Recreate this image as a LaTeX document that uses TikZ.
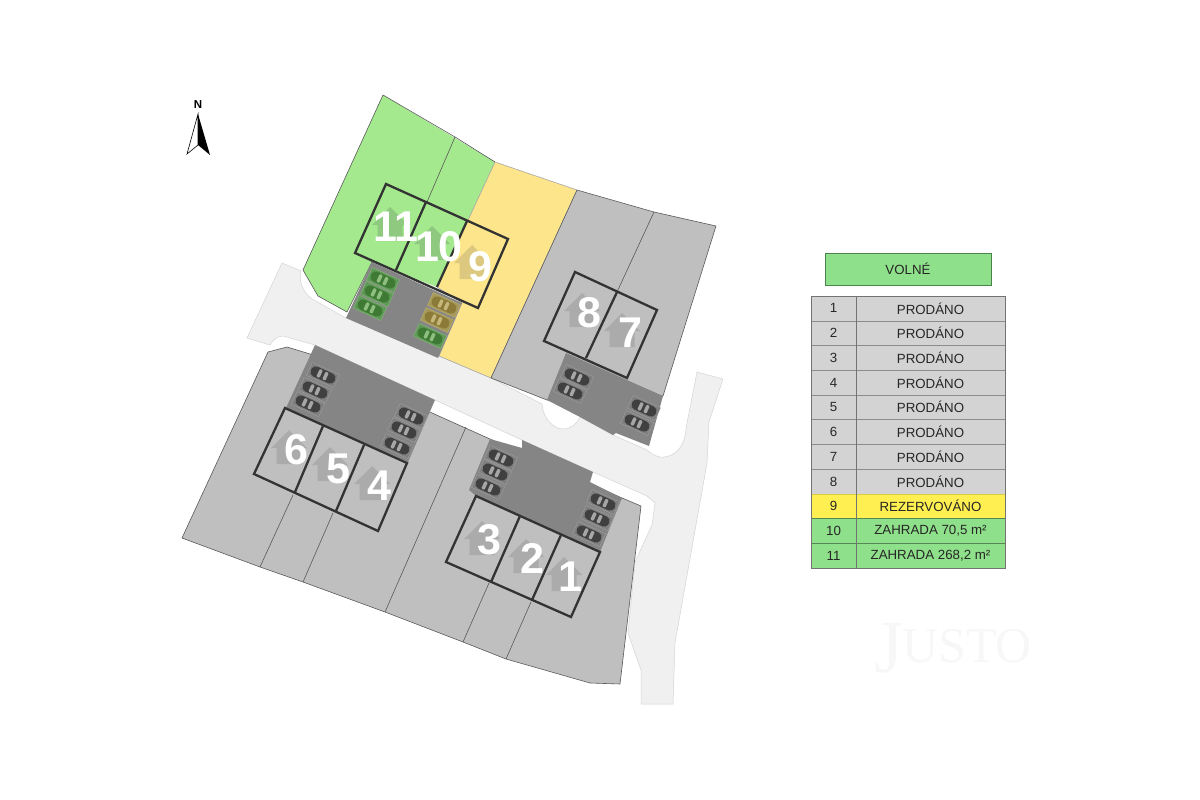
\documentclass[tikz,border=0pt]{standalone}
\usepackage{fontspec}
\setmainfont{Liberation Sans}
\newfontfamily\wmfont{Liberation Serif}

\definecolor{roadgray}{HTML}{F0F0F0}
\definecolor{lotgray}{HTML}{BFBFBF}
\definecolor{lotgreen}{HTML}{A4E98E}
\definecolor{lotyellow}{HTML}{FDE58B}
\definecolor{parkgray}{HTML}{858585}
\definecolor{rowgray}{HTML}{D3D3D3}
\definecolor{rowgreen}{HTML}{8FE08A}
\definecolor{rowyellow}{HTML}{FFEF50}
\definecolor{baygreen}{HTML}{5F9A58}
\definecolor{cargreen}{HTML}{3F7A34}
\definecolor{glassgreen}{HTML}{8FBF80}
\definecolor{bayolive}{HTML}{A69A5A}
\definecolor{carolive}{HTML}{8C7B38}
\definecolor{glassolive}{HTML}{C5B67A}
\definecolor{housegreen}{HTML}{8FC87F}
\definecolor{houseyellow}{HTML}{DCC87F}

\tikzset{
  lotedge/.style={draw=#1, line width=0.6pt, line join=round},
  blockline/.style={draw=black!80, line width=2.3pt, line join=miter},
  plotnum/.style={text=white, font=\fontsize{43}{43}\selectfont\bfseries, inner sep=0pt},
  rowcell/.style={minimum height=24.7pt, inner sep=0pt, text=black!85, font=\fontsize{13.3}{14}\selectfont},
}

% one parking bay: centre x, y, bay colour, car colour, window colour
\newcommand{\parkbay}[5]{
  \begin{scope}[shift={(#1,#2)}, rotate=-24.3]
    \filldraw [draw=#5, line width=0.3pt, fill=#3] (-15,-7) rectangle (15,7);
    \fill [#4, rounded corners=4.5pt] (-13,-5.3) rectangle (13,5.3);
    \fill [#5, rounded corners=1pt] (-5.5,-4.2) rectangle (-2,4.2);
    \fill [#5, rounded corners=1pt] (1,-4.2) rectangle (4.5,4.2);
  \end{scope}
}
% house icon: peak x, y, colour
\newcommand{\houseicon}[3]{
  \fill [#3] (#1,#2) -- ++(18,18) -- ++(-5.5,0) -- ++(0,16) -- ++(-25,0) -- ++(0,-16) -- ++(-5.5,0) -- cycle;
}

\begin{document}
\begin{tikzpicture}[x=1pt,y=-1pt]
\useasboundingbox (0,0) rectangle (1200,800);
% road
\filldraw [draw=black!17, line width=0.5pt, fill=roadgray] (282,263) -- (301,271) .. controls (298,283) and (304,293) .. (312,299) -- (346,318) -- (439,356) -- (491,378) -- (542,404) .. controls (543,418) and (553,429) .. (563,429) .. controls (571,429) and (577,424) .. (580,417) -- (613,435) -- (647,450) .. controls (653,455) and (659,458) .. (664,457) .. controls (674,456) and (682,449) .. (685,436) -- (687,423) -- (697,372) -- (723,379) -- (709,422) -- (707,463) -- (675,643) -- (673,704) -- (641,704) -- (641,670) -- (628,633) -- (635,562) -- (652,525) -- (655,503) -- (647,496) -- (593,472) -- (522,440) -- (435,400) -- (315,345) -- (283,336) .. controls (277,336) and (273,340) .. (270,345) -- (247,338) -- cycle;
% lots
\fill [lotgreen] (383,95) -- (495,162) -- (437,287) -- (372,262) -- (347,312) -- (318,296) -- (303,270) -- cycle;
\draw [lotedge=black!65] (372,262) -- (347,312) -- (318,296) -- (303,270) -- (383,95) -- (455,137) -- (495,162);
\draw [lotedge=black!65] (455,137) -- (427,202);
\filldraw [lotedge=black!35, fill=lotyellow] (495,162) -- (577,190) -- (491,378) -- (439,356) -- (462,303) -- (437,287) -- cycle;
\filldraw [lotedge=black!65, fill=lotgray] (577,190) -- (654,212) -- (716,226) -- (663,396) -- (547,400) -- (491,378) -- cycle;
\draw [lotedge=black!65] (654,212) -- (617,292);
\filldraw [lotedge=black!65, fill=lotgray] (182,538) -- (268,352) -- (287,347) -- (310,354) -- (432,413) -- (490,439) -- (622,498) -- (641,506) -- (620,684) -- (590,683) -- (506,659) -- (463,642) -- (385,612) -- (303,582) -- (260,567) -- cycle;
\draw [lotedge=black!65] (293,495) -- (260,567);
\draw [lotedge=black!65] (333,513) -- (303,582);
\draw [lotedge=black!65] (466,427) -- (385,612);
\draw [lotedge=black!65] (489,583) -- (463,642);
\draw [lotedge=black!65] (531,602) -- (506,659);
% parking
\fill [parkgray] (372,262) -- (462,303) -- (438,358) -- (346,318) -- cycle;
\fill [parkgray] (315,345) -- (435,400) -- (408,462) -- (286,408) -- cycle;
\fill [parkgray] (490,439) -- (522,448) -- (522,440) -- (593,472) -- (590,482) -- (622,498) -- (600,552) -- (476,496) -- (469,490) -- cycle;
\fill [parkgray] (566,353) -- (663,396) -- (649,446) -- (616,433) -- (613,435) -- (580,417) -- (547,400) -- cycle;
% bays
\foreach \bx/\by in {383/280, 377/294, 370/308, 430/336}
  \parkbay{\bx}{\by}{baygreen}{cargreen}{glassgreen};
\foreach \bx/\by in {444/305, 437/320}
  \parkbay{\bx}{\by}{bayolive}{carolive}{glassolive};
\foreach \bx/\by in {323/375, 315/390, 308/404, 411/416, 404/430, 397/446, 501/458, 495/472, 488/487, 603/502, 597/518, 589/534, 577/377, 570/391, 644/408, 637/423}
  \parkbay{\bx}{\by}{black!50}{black!75}{black!35};
% houses
\foreach \hx/\hy in {289/430, 330/447, 372/466, 482/521, 526/539, 564/557, 582/293, 622/313}
  \houseicon{\hx}{\hy}{black!33};
\houseicon{390}{207}{housegreen}
\houseicon{432}{226}{housegreen}
\houseicon{472}{245}{houseyellow}
% blocks
\draw [blockline] (386,184) -- (508,239) -- (478,308) -- (355,253) -- cycle;
\draw [blockline] (426,202) -- (396,270);
\draw [blockline] (467,221) -- (437,287);
\draw [blockline] (285,408) -- (407,463) -- (378,531) -- (254,474) -- cycle;
\draw [blockline] (323,426) -- (295,492);
\draw [blockline] (364,445) -- (336,511);
\draw [blockline] (476,496) -- (600,552) -- (571,617) -- (446,562) -- cycle;
\draw [blockline] (520,516) -- (491,582);
\draw [blockline] (561,535) -- (532,600);
\draw [blockline] (575,272) -- (657,310) -- (627,378) -- (544,341) -- cycle;
\draw [blockline] (617,292) -- (586,358);
% plot numbers
\foreach \pnum/\px/\py in {1/570/577, 2/532/558, 3/489/540, 4/379/486, 5/338/469, 6/296/450, 7/630/333, 8/589/313, 9/480/267, 10/439/247, 11/396/227}
  \node [plotnum] (plot\pnum) at (\px,\py) {\pnum};
% north
\filldraw [draw=black, line width=0.6pt, fill=white] (198,114) -- (198,145) -- (187,154) -- cycle;
\fill [black] (198,114) -- (198,145) -- (210,155) -- cycle;
\node [font=\fontsize{11.5}{12}\selectfont\bfseries, inner sep=0pt] (north) at (198,105) {N};
% legend
\node [draw=green!30!black!70, line width=0.7pt, fill=rowgreen, minimum width=166pt, minimum height=32pt, inner sep=0pt, font=\fontsize{13.3}{14}\selectfont, text=black!85] (free) at (908,269) {VOLNÉ};
\foreach \rnum/\rtext/\rfill/\rline in {1/PRODÁNO/rowgray/black!45, 2/PRODÁNO/rowgray/black!45, 3/PRODÁNO/rowgray/black!45, 4/PRODÁNO/rowgray/black!45, 5/PRODÁNO/rowgray/black!45, 6/PRODÁNO/rowgray/black!45, 7/PRODÁNO/rowgray/black!45, 8/PRODÁNO/rowgray/black!45, 9/REZERVOVÁNO/rowyellow/rowyellow!85!black, 10/{ZAHRADA 70,5 m²}/rowgreen/rowgreen!60!black, 11/{ZAHRADA 268,2 m²}/rowgreen/rowgreen!60!black}{
  \node [rowcell, draw=\rline, line width=0.4pt, fill=\rfill, minimum width=45pt] (num\rnum) at (833.5,{296+24.73*(\rnum-0.5)}) {\rnum};
  \node [rowcell, draw=\rline, line width=0.4pt, fill=\rfill, minimum width=149pt] (txt\rnum) at (930.5,{296+24.73*(\rnum-0.5)}) {\rtext};
}
\draw [black!55, line width=0.9pt] (811,296) rectangle (1005,568);
\draw [black!55, line width=0.7pt] (856,296) -- (856,568);
% watermark
\node [text=black!3, inner sep=0pt, anchor=base west] (mark) at (874,662) {\wmfont\fontsize{75}{75}\selectfont\raisebox{-10pt}{J}\kern-1pt\fontsize{50}{50}\selectfont USTO};
\end{tikzpicture}
\end{document}
